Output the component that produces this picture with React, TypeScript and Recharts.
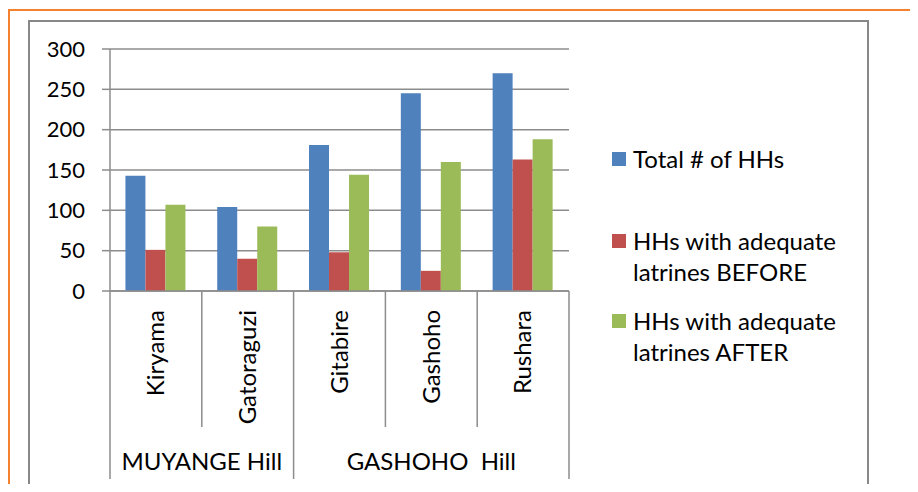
import { BarChart, Bar, XAxis, YAxis, CartesianGrid, Legend } from 'recharts';

const categories = ['Kiryama', 'Gatoraguzi', 'Gitabire', 'Gashoho', 'Rushara'];
const hills = ['MUYANGE Hill', 'MUYANGE Hill', 'GASHOHO  Hill', 'GASHOHO  Hill', 'GASHOHO  Hill'];
const totalHHs = [143, 104, 181, 245, 270];
const beforeHHs = [51, 40, 48, 25, 163];
const afterHHs = [107, 80, 144, 160, 188];
const yTicks = [0, 50, 100, 150, 200, 250, 300];

const seriesNames = ['Total # of HHs', 'HHs with adequate latrines BEFORE', 'HHs with adequate latrines AFTER'];
const seriesLines = [['Total # of HHs'], ['HHs with adequate', 'latrines BEFORE'], ['HHs with adequate', 'latrines AFTER']];
const colors = ['#4F81BD', '#C0504D', '#9BBB59'];

const data = categories.map((name, i) => ({
  name,
  hill: hills[i],
  total: totalHHs[i],
  before: beforeHHs[i],
  after: afterHHs[i],
}));

const FONT = 'Lato, "Open Sans", sans-serif';
const FONT_SIZE = 24;
const TICK_SIZE = 22;
const AXIS_GRAY = '#8c8c8c';

const CategoryTick = (props: any) => {
  const { x, y, payload, index } = props;
  const half = payload && payload.offset ? payload.offset : 45.9;
  const left = x - half;
  const groupStart = index === 0 || hills[index] !== hills[index - 1];
  const isLast = index === categories.length - 1;
  let groupSize = 0;
  if (groupStart) {
    for (let j = index; j < hills.length && hills[j] === hills[index]; j++) groupSize++;
  }
  return (
    <g>
      <line x1={left} x2={left} y1={y} y2={y + (groupStart ? 188 : 136)} stroke={AXIS_GRAY} strokeWidth={1.5} />
      {isLast && (
        <line x1={x + half} x2={x + half} y1={y} y2={y + 188} stroke={AXIS_GRAY} strokeWidth={1.5} />
      )}
      <text
        x={x}
        y={y + 19}
        dy="0.35em"
        textAnchor="end"
        transform={`rotate(-90, ${x}, ${y + 19})`}
        fill="#000"
        fontSize={FONT_SIZE}
        fontFamily={FONT}
      >
        {payload.value}
      </text>
      {groupStart && (
        <text
          x={left + groupSize * half}
          y={y + 171}
          dy="0.35em"
          textAnchor="middle"
          fill="#000"
          fontSize={FONT_SIZE}
          fontFamily={FONT}
          style={{ whiteSpace: 'pre' }}
        >
          {hills[index]}
        </text>
      )}
    </g>
  );
};

const itemGaps = [51, 18, 0];

const LegendBox = () => (
  <div style={{ fontFamily: FONT, fontSize: FONT_SIZE, color: '#000' }}>
    {seriesNames.map((s, i) => (
      <div key={s} style={{ display: 'flex', alignItems: 'flex-start', marginBottom: itemGaps[i] }}>
        <div style={{ width: 14, height: 14, background: colors[i], marginTop: 8.5, marginRight: 7, flexShrink: 0 }} />
        <div style={{ lineHeight: '31px' }}>
          {seriesLines[i].map((l) => (
            <div key={l} style={{ whiteSpace: 'nowrap' }}>{l}</div>
          ))}
        </div>
      </div>
    ))}
  </div>
);

export default function App() {
  return (
    <div
      style={{
        position: 'relative',
        width: 902,
        height: 475,
        marginTop: 1,
        borderTop: '2px solid #F4812F',
        borderLeft: '2px solid #F4812F',
        boxSizing: 'border-box',
        overflow: 'hidden',
        background: '#fff',
      }}
    >
      <div
        style={{
          position: 'absolute',
          left: 18,
          top: 9,
          width: 841,
          height: 600,
          border: '2px solid #888888',
          boxSizing: 'border-box',
        }}
      />
      <div style={{ position: 'absolute', left: -10, top: -11 }}>
        <BarChart
          width={918}
          height={492}
          data={data}
          margin={{ top: 49, right: 349, bottom: 0, left: 0 }}
          barCategoryGap="16.8%"
          barGap={0}
          style={{ fontFamily: FONT }}
        >
          <CartesianGrid vertical={false} stroke={AXIS_GRAY} strokeWidth={1.5} />
          <XAxis
            dataKey="name"
            height={201}
            interval={0}
            tickLine={false}
            tickSize={0}
            tickMargin={0}
            axisLine={{ stroke: AXIS_GRAY, strokeWidth: 1.5 }}
            tick={<CategoryTick />}
          />
          <YAxis
            width={110}
            domain={[0, 300]}
            ticks={yTicks}
            tickSize={8}
            tickMargin={17}
            axisLine={{ stroke: AXIS_GRAY, strokeWidth: 1.5 }}
            tickLine={{ stroke: AXIS_GRAY, strokeWidth: 1.5 }}
            tick={{ fill: '#000', fontSize: TICK_SIZE, fontFamily: FONT }}
          />
          <Legend
            layout="vertical"
            align="center"
            verticalAlign="middle"
            content={<LegendBox />}
            wrapperStyle={{ left: 612, top: 143, width: 270 }}
          />
          <Bar dataKey="total" name={seriesNames[0]} fill={colors[0]} isAnimationActive={false} />
          <Bar dataKey="before" name={seriesNames[1]} fill={colors[1]} isAnimationActive={false} />
          <Bar dataKey="after" name={seriesNames[2]} fill={colors[2]} isAnimationActive={false} />
        </BarChart>
      </div>
    </div>
  );
}
